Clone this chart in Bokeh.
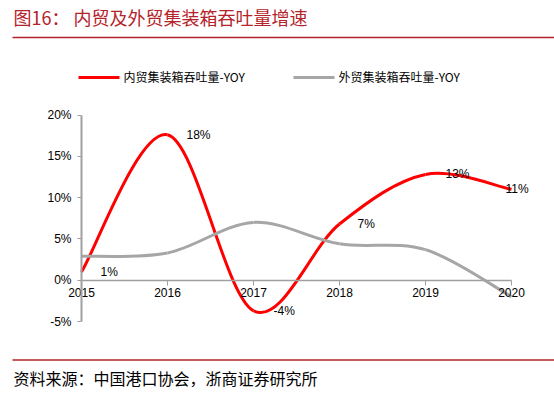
import numpy as np
from bokeh.plotting import figure
from bokeh.models import Range1d, FixedTicker, PrintfTickFormatter, ColumnDataSource
from bokeh.core.properties import value
from bokeh.embed import file_html
from bokeh.resources import INLINE

# ---------------- data ----------------
years = [2015, 2016, 2017, 2018, 2019, 2020]
domestic_yoy = [1.0, 17.6, -3.7, 6.8, 12.8, 11.0]   # 内贸集装箱吞吐量-YOY (%)
foreign_yoy = [2.9, 3.3, 7.0, 4.4, 3.7, -2.0]       # 外贸集装箱吞吐量-YOY (%)
y_ticks = [-5, 0, 5, 10, 15, 20]
series_names = ["内贸集装箱吞吐量-YOY", "外贸集装箱吞吐量-YOY"]
title_prefix = "图16："
title_text = "内贸及外贸集装箱吞吐量增速"
source_text = "资料来源：中国港口协会，浙商证券研究所"

# ---------------- layout / styles ----------------
CW, CH = 554, 394
PX_X0, PX_X1 = 81, 511          # canvas px of first / last category
PX_YTOP, PX_YBOT = 114.5, 321   # canvas px of top / bottom y tick
label_dx = [19, 19, 20, 18, 20, -6]
RED = "#FF0000"
GRAY = "#A6A6A6"
AXIS = "#A0A0A0"
DARKRED = "#B4232A"
CJK = value("Noto Sans CJK SC")
LATIN = "Liberation Sans"


def smooth(xs, ys):
    """Bezier control points (Catmull-Rom style) through the given points."""
    x = np.asarray(xs, float)
    y = np.asarray(ys, float)
    n = len(x)
    xp = np.concatenate([[x[0]], x, [x[-1]]])
    yp = np.concatenate([[y[0]], y, [y[-1]]])
    return dict(
        x0=x[:-1], y0=y[:-1], x1=x[1:], y1=y[1:],
        cx0=x[:-1] + (xp[2:n + 1] - xp[0:n - 1]) / 6,
        cy0=y[:-1] + (yp[2:n + 1] - yp[0:n - 1]) / 6,
        cx1=x[1:] - (xp[3:n + 2] - xp[1:n]) / 6,
        cy1=y[1:] - (yp[3:n + 2] - yp[1:n]) / 6,
    )


ppx = (PX_X1 - PX_X0) / (years[-1] - years[0])
ppy = (PX_YBOT - PX_YTOP) / (y_ticks[-1] - y_ticks[0])
x_range = Range1d(years[0] - PX_X0 / ppx, years[-1] + (CW - PX_X1) / ppx)
y_range = Range1d(y_ticks[0] - (CH - PX_YBOT) / ppy, y_ticks[-1] + PX_YTOP / ppy)

p = figure(width=CW, height=CH, x_range=x_range, y_range=y_range,
           output_backend="svg", toolbar_location=None,
           min_border=0, min_border_left=0, min_border_right=0,
           min_border_top=0, min_border_bottom=0,
           outline_line_color=None)
p.grid.visible = False
p.extra_x_ranges = {"px": Range1d(0, CW)}
p.extra_y_ranges = {"px": Range1d(CH, 0)}
PX = dict(x_range_name="px", y_range_name="px")

# ---------------- header: title + legend ----------------
p.text(x=[13], y=[16], text=[title_prefix], text_font=CJK, text_font_size="18px",
       text_color=DARKRED, text_baseline="middle", text_align="left", **PX)
p.text(x=[73], y=[16], text=[title_text], text_font=CJK, text_font_size="18px",
       text_color=DARKRED, text_baseline="middle", text_align="left", **PX)
p.segment(x0=[12], y0=[37], x1=[CW], y1=[37], line_color=DARKRED, line_width=1.5, **PX)

p.segment(x0=[78], y0=[77], x1=[119], y1=[77], line_color=RED, line_width=3, **PX)
p.text(x=[123], y=[76], text=[series_names[0]], text_font=CJK, text_font_size="12px",
       text_color="#000000", text_baseline="middle", text_align="left", **PX)
p.segment(x0=[293], y0=[77], x1=[334], y1=[77], line_color=GRAY, line_width=3, **PX)
p.text(x=[338], y=[76], text=[series_names[1]], text_font=CJK, text_font_size="12px",
       text_color="#000000", text_baseline="middle", text_align="left", **PX)

# ---------------- footer: source ----------------
p.segment(x0=[12], y0=[359.5], x1=[CW], y1=[359.5], line_color=DARKRED, line_width=1.5, **PX)
p.text(x=[13], y=[377], text=[source_text], text_font=CJK, text_font_size="16px",
       text_color="#000000", text_baseline="middle", text_align="left", **PX)

# ---------------- series ----------------
red = smooth(years, domestic_yoy)
gray = smooth(years, foreign_yoy)
p.bezier(source=ColumnDataSource(red), x0="x0", y0="y0", x1="x1", y1="y1",
         cx0="cx0", cy0="cy0", cx1="cx1", cy1="cy1",
         line_color=RED, line_width=3)
p.bezier(source=ColumnDataSource(gray), x0="x0", y0="y0", x1="x1", y1="y1",
         cx0="cx0", cy0="cy0", cx1="cx1", cy1="cy1",
         line_color=GRAY, line_width=3)

lab = ColumnDataSource(dict(x=years, y=domestic_yoy,
                            t=[f"{round(v)}%" for v in domestic_yoy], dx=label_dx))
p.text(x="x", y="y", text="t", x_offset="dx", source=lab,
       text_font=value(LATIN), text_font_size="12px", text_color="#000000",
       text_baseline="middle", text_align="left")

# ---------------- axes ----------------
xa = p.xaxis[0]
xa.fixed_location = 0
xa.bounds = (years[0], years[-1])
xa.ticker = FixedTicker(ticks=years)
xa.minor_tick_line_color = None
xa.major_tick_out = 5
xa.major_tick_in = 0
xa.axis_line_color = AXIS
xa.axis_line_width = 1.5
xa.major_tick_line_color = AXIS
xa.major_label_standoff = 3
xa.major_label_text_font = LATIN
xa.major_label_text_font_size = "12px"
xa.major_label_text_color = "#000000"

ya = p.yaxis[0]
ya.fixed_location = years[0]
ya.bounds = (y_ticks[0], y_ticks[-1])
ya.ticker = FixedTicker(ticks=y_ticks)
ya.formatter = PrintfTickFormatter(format="%d%%")
ya.minor_tick_line_color = None
ya.major_tick_out = 4
ya.major_tick_in = 0
ya.axis_line_color = AXIS
ya.axis_line_width = 2
ya.major_tick_line_color = AXIS
ya.major_label_standoff = 6
ya.major_label_text_font = LATIN
ya.major_label_text_font_size = "12px"
ya.major_label_text_color = "#000000"

open("out.html", "w").write(file_html(p, INLINE))
